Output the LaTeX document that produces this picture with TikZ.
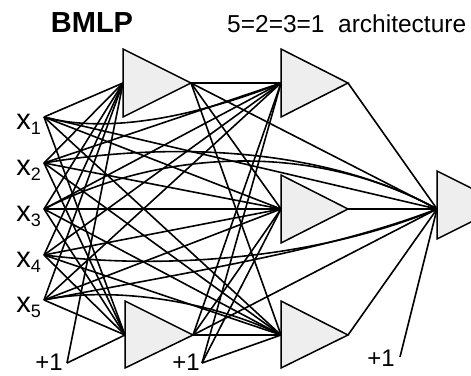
\documentclass[tikz,border=0pt]{standalone}
\usepackage{fontspec}
\setmainfont{Liberation Sans}
\begin{document}
\begin{tikzpicture}[x=1pt,y=-1pt,
  conn/.style={line width=1.6pt, black},
  neuron/.style={line width=1.5pt, draw=black, fill=gray!13, line join=miter},
  lbl/.style={inner sep=0pt, anchor=base east, font=\fontsize{29}{29}\selectfont},
  biaslbl/.style={inner sep=0pt, anchor=base, font=\fontsize{24}{24}\selectfont}]
\useasboundingbox (0,0) rectangle (471,375);
\clip (0,0) rectangle (471,375);

% titles
\node[inner sep=0pt, anchor=base, font=\fontsize{29}{29}\selectfont\bfseries] (title) at (92,32) {BMLP};
\node[inner sep=0pt, anchor=base west, font=\fontsize{24.5}{25}\selectfont] (arch) at (227,32) {5=2=3=1\ \ architecture};

% input points
\coordinate (x1) at (44,117);
\coordinate (x2) at (44,163);
\coordinate (x3) at (44,209);
\coordinate (x4) at (44,255);
\coordinate (x5) at (44,300);
\foreach \i/\y in {1/117,2/163,3/209,4/255,5/300}{
  \node[lbl] (lx\i) at (41,\y+12) {x\raisebox{-5pt}{\fontsize{18}{18}\selectfont\i}};
}

% bias points
\coordinate (b1) at (67,363);
\coordinate (b2) at (202,363);
\coordinate (b3) at (400,357);
\node[biaslbl] (lb1) at (49,370) {+1};
\node[biaslbl] (lb2) at (186,370) {+1};
\node[biaslbl] (lb3) at (381,366) {+1};

% neuron input / output points
\coordinate (h1a) at (123,83);  \coordinate (h1at) at (191,83);
\coordinate (h1b) at (125,335); \coordinate (h1bt) at (193,335);
\coordinate (h2a) at (281,83);  \coordinate (h2at) at (348,83);
\coordinate (h2b) at (281,209); \coordinate (h2bt) at (348,209);
\coordinate (h2c) at (281,335); \coordinate (h2ct) at (348,335);
\coordinate (out) at (437,209);

% connections: inputs to layer 1
\foreach \i in {1,...,5}{
  \draw[conn] (x\i) -- (h1a);
  \draw[conn] (x\i) -- (h1b);
}
% inputs to layer 2
\draw[conn] (x1) .. controls (110,135) and (200,115) .. (h2a);
\foreach \i in {2,3,4,5}{ \draw[conn] (x\i) -- (h2a); }
\foreach \i in {1,...,5}{ \draw[conn] (x\i) -- (h2b); }
\foreach \i in {1,2,3,4}{ \draw[conn] (x\i) -- (h2c); }
\draw[conn] (x5) .. controls (110,286) and (210,300) .. (h2c);
% inputs to output
\draw[conn] (x1) -- (out);
\draw[conn] (x2) .. controls (180,140) and (330,150) .. (out);
\draw[conn] (x3) .. controls (170,145) and (320,145) .. (out);
\draw[conn] (x4) .. controls (180,272) and (330,254) .. (out);
\draw[conn] (x5) .. controls (200,270) and (330,250) .. (out);
% biases
\draw[conn] (b1) -- (h1a);
\draw[conn] (b1) -- (h1b);
\draw[conn] (b2) -- (h2a);
\draw[conn] (b2) -- (h2b);
\draw[conn] (b2) -- (h2c);
\draw[conn] (b3) -- (out);
% layer 1 to layer 2 and output
\foreach \s in {h1at,h1bt}{
  \draw[conn] (\s) -- (h2a);
  \draw[conn] (\s) -- (h2b);
  \draw[conn] (\s) -- (h2c);
  \draw[conn] (\s) -- (out);
}
% layer 2 to output
\draw[conn] (h2at) -- (out);
\draw[conn] (h2bt) -- (out);
\draw[conn] (h2ct) -- (out);

% neurons
\draw[neuron] (123,49) -- (191,83) -- (123,117) -- cycle;
\draw[neuron] (125,301) -- (193,335) -- (125,368) -- cycle;
\draw[neuron] (281,49) -- (348,83) -- (281,117) -- cycle;
\draw[neuron] (281,175) -- (348,209) -- (281,243) -- cycle;
\draw[neuron] (281,301) -- (348,335) -- (281,368) -- cycle;
\draw[neuron] (437,171) -- (505,205) -- (437,239) -- cycle;
\end{tikzpicture}
\end{document}
